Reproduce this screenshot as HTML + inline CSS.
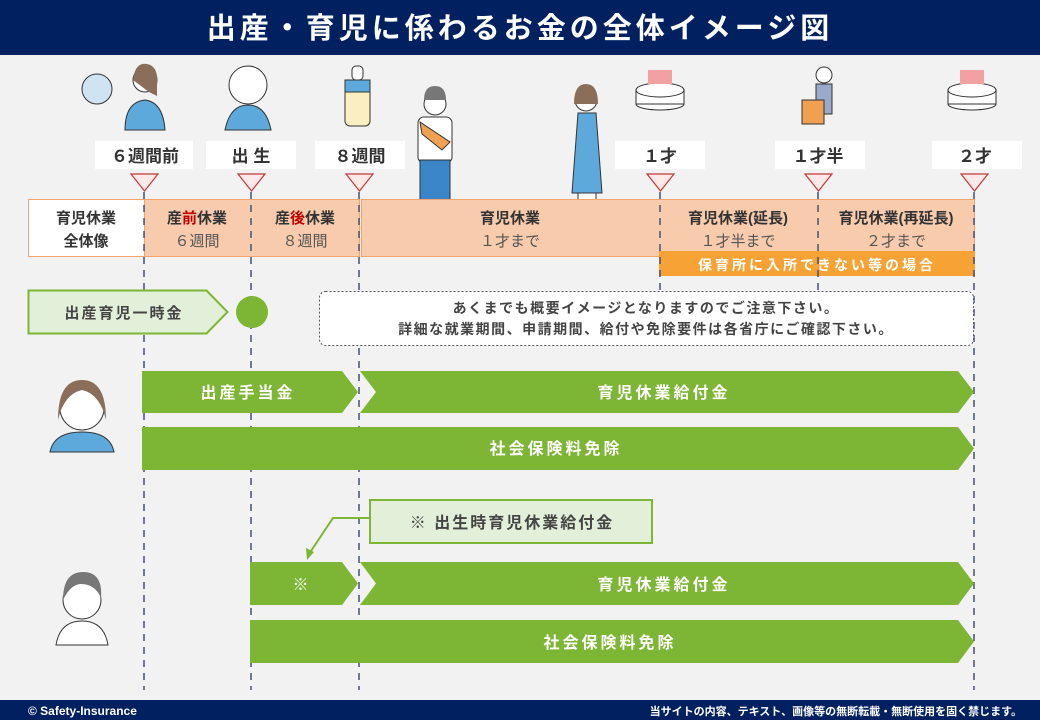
<!DOCTYPE html>
<html><head><meta charset="utf-8"><style>
html,body{margin:0;padding:0;background:#f2f2f2}
svg{display:block}
text{font-family:"Liberation Sans","Noto Sans CJK JP",sans-serif}
</style></head><body>
<svg width="1040" height="720" viewBox="0 0 1040 720" xmlns="http://www.w3.org/2000/svg">
<rect width="1040" height="720" fill="#f2f2f2"/>
<rect width="1040" height="55" fill="#002060"/>
<text x="520" y="38" text-anchor="middle" font-size="29" font-weight="bold" fill="#fff" letter-spacing="4">出産・育児に係わるお金の全体イメージ図</text>
<rect y="700" width="1040" height="20" fill="#002060"/>
<text x="28" y="715" font-size="12" font-weight="bold" fill="#fff">© Safety-Insurance</text>
<text x="1022" y="715" font-size="11" font-weight="bold" fill="#fff" text-anchor="end">当サイトの内容、テキスト、画像等の無断転載・無断使用を固く禁じます。</text>

<circle cx="97" cy="89" r="15" fill="#cfe3f3" stroke="#333"/>
<circle cx="145" cy="80" r="12" fill="#fff" stroke="#333"/>
<path d="M133 80 q2-18 14-16 q12 2 10 22 l0 10 -8 -4z" fill="#8a6e5a"/>
<path d="M125 130 q0-28 20-30 q18 2 20 30z" fill="#5ea9dc" stroke="#333"/>
<circle cx="248" cy="85" r="19" fill="#fff" stroke="#333"/>
<path d="M225 130 q5-25 23-25 q18 0 23 25z" fill="#5ea9dc" stroke="#333"/>
<rect x="345" y="80" width="25" height="46" rx="5" fill="#fbeec0" stroke="#333"/>
<rect x="345" y="80" width="25" height="12" fill="#5ea9dc" stroke="#333"/>
<rect x="352" y="66" width="11" height="14" rx="4" fill="#fff" stroke="#333"/>
<circle cx="435" cy="104" r="11" fill="#fff" stroke="#333"/>
<path d="M424 100 q0-14 11-14 q11 0 11 14z" fill="#777"/>
<rect x="418" y="117" width="34" height="46" rx="6" fill="#fff" stroke="#333"/>
<rect x="420" y="160" width="30" height="62" fill="#3a86c8" stroke="#333"/>
<path d="M420 122 l30 20 -8 8 -20-16z" fill="#f0a050" stroke="#333"/>
<circle cx="586" cy="100" r="11" fill="#fff" stroke="#333"/>
<path d="M574 104 q0-20 12-20 q12 0 12 20z" fill="#8a6e5a"/>
<path d="M572 193 l6-80 h18 l6 80z" fill="#5ea9dc" stroke="#333"/>
<rect x="578" y="193" width="18" height="28" fill="#fff" stroke="#333"/>
<g fill="#fff" stroke="#333"><ellipse cx="660" cy="104" rx="24" ry="6"/><rect x="636" y="90" width="48" height="14"/><ellipse cx="660" cy="90" rx="24" ry="7"/></g>
<g fill="#fff" stroke="#333"><ellipse cx="972" cy="104" rx="24" ry="6"/><rect x="948" y="90" width="48" height="14"/><ellipse cx="972" cy="90" rx="24" ry="7"/></g>
<rect x="648" y="70" width="24" height="14" fill="#f2a0a0"/><rect x="960" y="70" width="24" height="14" fill="#f2a0a0"/>
<circle cx="824" cy="75" r="8" fill="#fff" stroke="#333"/><rect x="816" y="84" width="16" height="30" fill="#9ac" stroke="#333"/>
<rect x="802" y="100" width="22" height="24" fill="#f0a050" stroke="#333"/>

<g font-size="17" font-weight="bold" fill="#333" text-anchor="middle">
<rect x="95" y="141" width="98" height="28" fill="#fff"/><text x="145" y="162">６週間前</text>
<rect x="206" y="141" width="90" height="28" fill="#fff"/><text x="251" y="162">出 生</text>
<rect x="315" y="141" width="90" height="28" fill="#fff"/><text x="360" y="162">８週間</text>
<rect x="615" y="141" width="90" height="28" fill="#fff"/><text x="660" y="162">１才</text>
<rect x="775" y="141" width="90" height="28" fill="#fff"/><text x="818" y="162">１才半</text>
<rect x="932" y="141" width="90" height="28" fill="#fff"/><text x="975" y="162">２才</text>
</g>
<g fill="#fde9e7" stroke="#c0393a" stroke-width="1.2">
<path d="M131 174 h27 l-13.5 17z"/><path d="M238 174 h27 l-13.5 17z"/><path d="M346 174 h27 l-13.5 17z"/>
<path d="M647 174 h27 l-13.5 17z"/><path d="M805 174 h27 l-13.5 17z"/><path d="M961 174 h27 l-13.5 17z"/>
</g>

<rect x="28.5" y="199.5" width="116" height="57" fill="#fff" stroke="#f4a46a"/>
<rect x="144.5" y="199.5" width="215" height="57" fill="#f8cbad" stroke="#f4a46a"/>
<rect x="361.5" y="199.5" width="613" height="57" fill="#f8cbad" stroke="#f4a46a"/>
<rect x="659" y="251" width="316" height="25" fill="#f7a234"/>
<g text-anchor="middle" fill="#333">
<text x="86" y="223" font-size="15" font-weight="bold">育児休業</text>
<text x="86" y="246" font-size="15" font-weight="bold">全体像</text>
<text x="197" y="223" font-size="15" font-weight="bold">産<tspan fill="#c00000">前</tspan>休業</text>
<text x="197" y="246" font-size="15" fill="#555">６週間</text>
<text x="305" y="223" font-size="15" font-weight="bold">産<tspan fill="#c00000">後</tspan>休業</text>
<text x="305" y="246" font-size="15" fill="#555">８週間</text>
<text x="510" y="223" font-size="15" font-weight="bold">育児休業</text>
<text x="510" y="246" font-size="15" fill="#555">１才まで</text>
<text x="738" y="223" font-size="15" font-weight="bold">育児休業(延長)</text>
<text x="738" y="246" font-size="15" fill="#555">１才半まで</text>
<text x="896" y="223" font-size="15" font-weight="bold">育児休業(再延長)</text>
<text x="896" y="246" font-size="15" fill="#555">２才まで</text>
<text x="817" y="270" font-size="14" font-weight="bold" fill="#fff" letter-spacing="3">保育所に入所できない等の場合</text>
</g>

<g stroke="#44507a" stroke-width="1.5" stroke-dasharray="7,6">
<line x1="144" y1="192" x2="144" y2="690"/><line x1="251" y1="192" x2="251" y2="690"/><line x1="359" y1="192" x2="359" y2="690"/>
<line x1="660" y1="192" x2="660" y2="290"/><line x1="818" y1="192" x2="818" y2="290"/><line x1="974" y1="192" x2="974" y2="690"/>
</g>

<path d="M28.5 290.5 h178 l21 21.5 -21 21.5 h-178z" fill="#e2efd9" stroke="#7db534" stroke-width="2"/>
<text x="124" y="318" text-anchor="middle" font-size="15" font-weight="bold" fill="#444" letter-spacing="2">出産育児一時金</text>
<circle cx="252" cy="312" r="16" fill="#7db534"/>
<rect x="319.5" y="291.5" width="654" height="54" rx="6" fill="#fff" stroke="#555" stroke-dasharray="2,2"/>
<text x="646" y="313" text-anchor="middle" font-size="14" font-weight="bold" fill="#444" letter-spacing="1.5">あくまでも概要イメージとなりますのでご注意下さい。</text>
<text x="646" y="334" text-anchor="middle" font-size="14" font-weight="bold" fill="#444" letter-spacing="1.5">詳細な就業期間、申請期間、給付や免除要件は各省庁にご確認下さい。</text>

<circle cx="82" cy="408" r="22" fill="#fff" stroke="#333"/>
<path d="M58 420 q0-40 24-40 q24 0 24 40 q-6-26 -24-30 q-18 4 -24 30z" fill="#8a6e5a"/>
<path d="M50 452 q4-20 32-20 q28 0 32 20z" fill="#5ea9dc" stroke="#333"/>

<g font-size="16" font-weight="bold" fill="#fff" text-anchor="middle" letter-spacing="3">
<path d="M142 371 h200 l16 21 -16 21 h-200z" fill="#7db534"/>
<text x="248" y="398">出産手当金</text>
<path d="M360 371 h598 l16 21 -16 21 h-598 l16 -21z" fill="#7db534"/>
<text x="664" y="398">育児休業給付金</text>
<path d="M142 427 h816 l16 21.5 -16 21.5 h-816z" fill="#7db534"/>
<text x="556" y="454">社会保険料免除</text>
<path d="M250 562 h92 l16 21.5 -16 21.5 h-92z" fill="#7db534"/>
<text x="302" y="590">※</text>
<path d="M360 562 h598 l16 21.5 -16 21.5 h-598 l16 -21.5z" fill="#7db534"/>
<text x="664" y="590">育児休業給付金</text>
<path d="M250 620 h708 l16 21.5 -16 21.5 h-708z" fill="#7db534"/>
<text x="610" y="648">社会保険料免除</text>
</g>

<rect x="370" y="500" width="282" height="43" fill="#e2efd9" stroke="#7db534" stroke-width="2"/>
<text x="512" y="528" text-anchor="middle" font-size="16" font-weight="bold" fill="#444" letter-spacing="2">※ 出生時育児休業給付金</text>
<path d="M370 518 h-37 l-24 36" fill="none" stroke="#7db534" stroke-width="2"/>
<path d="M307 560 l-1 -12 8 4z" fill="#7db534"/>

<circle cx="82" cy="600" r="19" fill="#fff" stroke="#333"/>
<path d="M63 600 q0-28 20-28 q20 0 18 26 q-6-14 -20-14 q-10 0 -18 16z" fill="#777"/>
<path d="M56 645 q4-24 26-24 q22 0 26 24z" fill="#fff" stroke="#333"/>
</svg>
</body></html>
